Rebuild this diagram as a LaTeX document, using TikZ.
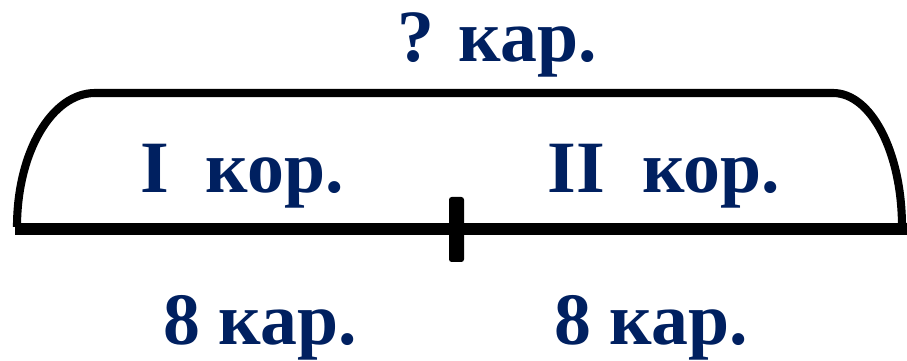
\documentclass[tikz,border=0pt]{standalone}
\usepackage{fontspec}
\setmainfont{Liberation Serif}
\usepackage{tikz}
\usetikzlibrary{arrows.meta,positioning,calc}
\definecolor{navy}{RGB}{0,32,96}
\tikzset{
  lbl/.style={text=navy, font=\fontsize{42}{42}\selectfont\bfseries, inner sep=0pt, anchor=base},
  segline/.style={line width=6.4pt},
  brace/.style={line width=4.6pt, line join=round}
}

\begin{document}
\begin{tikzpicture}[x=0.02cm, y=-0.02cm]
    \useasboundingbox (0,0) rectangle (907,361);

    % Segment
    \coordinate (segL) at (15,229);
    \coordinate (segR) at (907,229);
    \draw[segline] (segL) -- (segR);

    % Tick in the middle
    \fill[black, rounded corners=1.5pt] (449,197) rectangle (464,262);

    % Bracket over the whole segment
    \coordinate (brL) at (17,227);
    \coordinate (brR) at (902,227);
    \draw[brace] (brL) .. controls (17,152) and (52,93) .. (95,93)
                 -- (833,93) .. controls (871,93) and (902,152) .. (brR);

    % Labels
    \node[lbl] (total) at (497,62) {? кар.};
    \node[lbl] (korI) at (242,193) {I\ \ кор.};
    \node[lbl] (korII) at (664,193) {II\ \ кор.};
    \node[lbl] (karI) at (260,345) {8 кар.};
    \node[lbl] (karII) at (651,345) {8 кар.};
\end{tikzpicture}
\end{document}
